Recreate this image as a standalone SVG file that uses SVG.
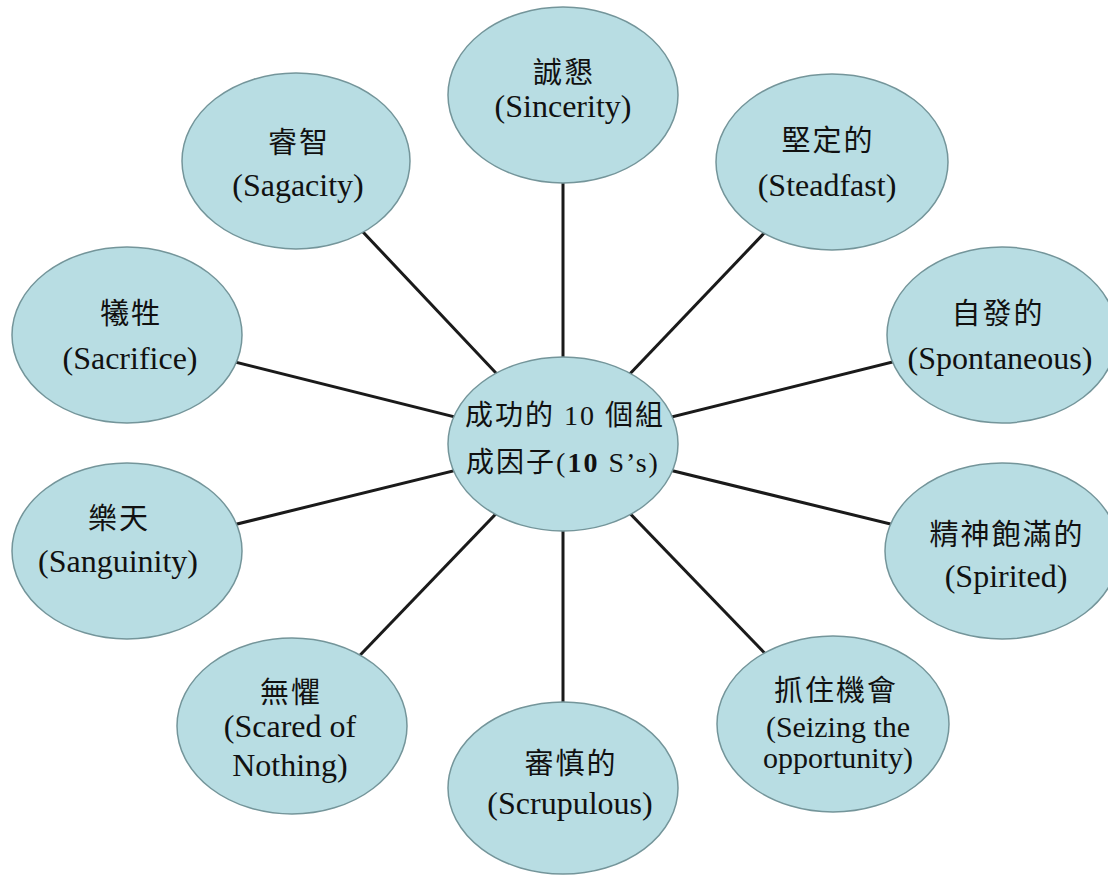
<svg xmlns="http://www.w3.org/2000/svg" width="1108" height="877" viewBox="0 0 1108 877">
<style>
.n{fill:#b8dde3;stroke:#74959a;stroke-width:1.5}
.t{font-family:"Liberation Serif","Noto Sans CJK TC",serif;font-size:32px;fill:#111;text-anchor:middle}
.s{font-size:30px}
.k{font-family:"Noto Sans CJK TC","Liberation Serif",serif;font-size:29px;letter-spacing:2px;fill:#111;text-anchor:middle}
.c{font-family:"Liberation Serif","Noto Sans CJK TC",serif;font-size:28px;letter-spacing:2px;fill:#111;text-anchor:middle}
line{stroke:#1a1a1a;stroke-width:3}
</style>
<rect width="1108" height="877" fill="#fff"/>
<g id="connectors">
<line x1="563" y1="444" x2="563" y2="95"/>
<line x1="563" y1="444" x2="296" y2="161"/>
<line x1="563" y1="444" x2="832" y2="162"/>
<line x1="563" y1="444" x2="127" y2="335"/>
<line x1="563" y1="444" x2="1001" y2="335"/>
<line x1="563" y1="444" x2="127" y2="551"/>
<line x1="563" y1="444" x2="1001" y2="551"/>
<line x1="563" y1="444" x2="292" y2="726"/>
<line x1="563" y1="444" x2="563" y2="788"/>
<line x1="563" y1="444" x2="833" y2="724"/>
</g>
<g id="sincerity"><ellipse class="n" cx="563" cy="95" rx="115" ry="88"/><text class="k" x="564" y="83">誠懇</text><text class="t" x="563" y="117">(Sincerity)</text></g>
<g id="sagacity"><ellipse class="n" cx="296" cy="161" rx="114" ry="88"/><text class="k" x="299" y="153">睿智</text><text class="t" x="298" y="196">(Sagacity)</text></g>
<g id="steadfast"><ellipse class="n" cx="832" cy="162" rx="116" ry="88"/><text class="k" x="828" y="151">堅定的</text><text class="t" x="827" y="196">(Steadfast)</text></g>
<g id="sacrifice"><ellipse class="n" cx="127" cy="335" rx="115" ry="88"/><text class="k" x="131" y="324">犧牲</text><text class="t" x="130" y="369">(Sacrifice)</text></g>
<g id="spontaneous"><ellipse class="n" cx="1002" cy="335" rx="115" ry="88"/><text class="k" x="998" y="324">自發的</text><text class="t" x="1000" y="369">(Spontaneous)</text></g>
<g id="center"><ellipse class="n" cx="563" cy="444" rx="115" ry="87"/><text class="c" x="565" y="425">成功的 10 個組</text><text class="c" x="563" y="472">成因子(<tspan font-weight="bold">10</tspan> S’s)</text></g>
<g id="sanguinity"><ellipse class="n" cx="127" cy="551" rx="115" ry="88"/><text class="k" x="119" y="529">樂天</text><text class="t" x="118" y="572">(Sanguinity)</text></g>
<g id="spirited"><ellipse class="n" cx="1002" cy="551" rx="117" ry="88"/><text class="k" x="1007" y="545">精神飽滿的</text><text class="t" x="1006" y="587">(Spirited)</text></g>
<g id="scared"><ellipse class="n" cx="292" cy="726" rx="115" ry="88"/><text class="k" x="291" y="703">無懼</text><text class="t" x="290" y="737">(Scared of</text><text class="t" x="290" y="776">Nothing)</text></g>
<g id="scrupulous"><ellipse class="n" cx="563" cy="788" rx="115" ry="86"/><text class="k" x="571" y="774">審慎的</text><text class="t" x="570" y="814">(Scrupulous)</text></g>
<g id="seizing"><ellipse class="n" cx="833" cy="724" rx="116" ry="88"/><text class="k" x="836" y="701">抓住機會</text><text class="t s" x="838" y="737">(Seizing the</text><text class="t s" x="838" y="768">opportunity)</text></g>
</svg>
